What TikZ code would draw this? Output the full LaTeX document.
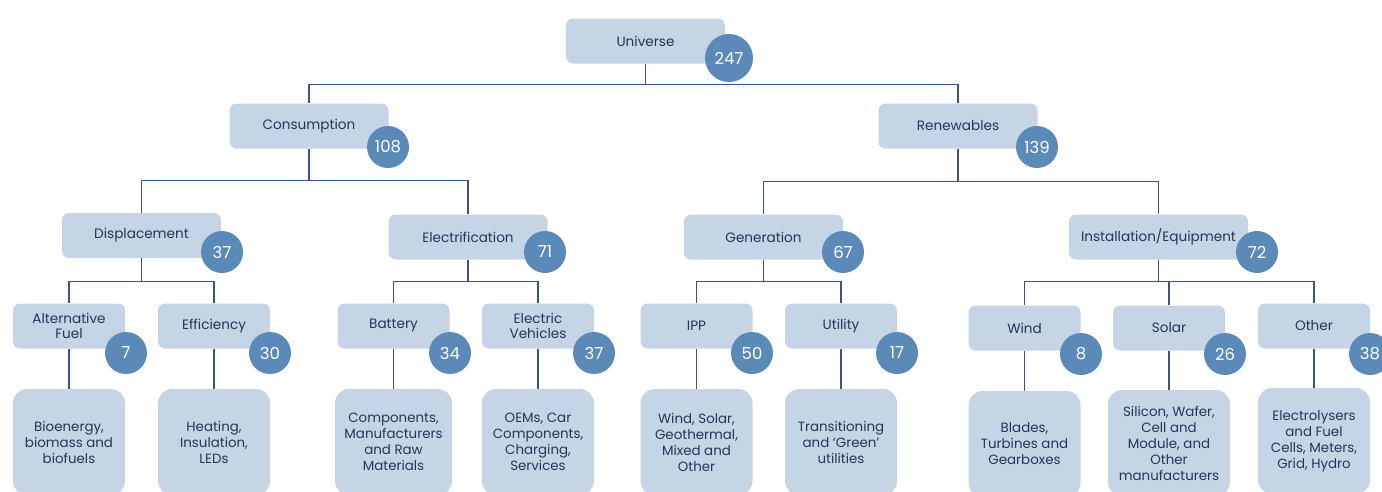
\documentclass[tikz,border=0pt]{standalone}
\usepackage{fontspec}
\setmainfont{Poppins}
\usetikzlibrary{positioning}
\definecolor{boxblue}{HTML}{C5D5E5}
\definecolor{dotblue}{HTML}{5B8AB9}
\definecolor{inkblue}{HTML}{26345A}
\definecolor{wireblue}{HTML}{3A5580}

\begin{document}
\begin{tikzpicture}[x=1pt,y=-1pt,
    cat/.style={rectangle,rounded corners=7pt,fill=boxblue,text=inkblue,
        minimum width=159pt,minimum height=45pt,inner sep=1pt,align=center,
        font=\fontsize{13.6}{15.5}\selectfont},
    sub/.style={cat,minimum width=112pt},
    detail/.style={rectangle,rounded corners=14pt,fill=boxblue,text=inkblue,
        minimum width=112pt,minimum height=106pt,inner sep=1pt,align=center,
        font=\fontsize{13.4}{16}\selectfont},
    count/.style={circle,fill=dotblue,text=white,minimum size=42pt,inner sep=0pt,
        font=\fontsize{16.5}{16.5}\selectfont},
    wire/.style={draw=wireblue,line width=1.3pt}]
    \useasboundingbox (0,0) rectangle (1382,491);
    \clip (0,0) rectangle (1382,491);

    % Top
    \node[cat] (univ) at (645.5,41) {Universe};

    % Second level
    \node[cat] (cons) at (309,126) {Consumption};
    \node[cat] (renew) at (958,126) {Renewables};

    % Third level
    \node[cat] (disp) at (141.5,235.5) {Displacement};
    \node[cat] (elec) at (468,237) {Electrification};
    \node[cat] (gen) at (763.5,237) {Generation};
    \node[cat,minimum width=179pt] (inst) at (1158.5,237) {Installation/Equipment};

    % Fourth level
    \node[sub] (altf) at (69,326) {Alternative\\Fuel};
    \node[sub] (effi) at (214,326) {Efficiency};
    \node[sub] (batt) at (393.5,326) {Battery};
    \node[sub] (ev) at (538,326) {Electric\\Vehicles};
    \node[sub] (ipp) at (696.5,326) {IPP};
    \node[sub] (util) at (841,326) {Utility};
    \node[sub] (wind) at (1024.5,328) {Wind};
    \node[sub] (solar) at (1169,328) {Solar};
    \node[sub] (other) at (1314,326) {Other};

    % Details
    \node[detail] (altf-d) at (69,442) {Bioenergy,\\biomass and\\biofuels};
    \node[detail] (effi-d) at (214,442) {Heating,\\Insulation,\\LEDs};
    \node[detail,minimum width=117pt] (batt-d) at (393.5,442) {Components,\\Manufacturers\\and Raw\\Materials};
    \node[detail] (ev-d) at (538,442) {OEMs, Car\\Components,\\Charging,\\Services};
    \node[detail] (ipp-d) at (696.5,442) {Wind, Solar,\\Geothermal,\\Mixed and\\Other};
    \node[detail] (util-d) at (841,442) {Transitioning\\and `Green'\\utilities};
    \node[detail] (wind-d) at (1024.5,444) {Blades,\\Turbines and\\Gearboxes};
    \node[detail,minimum width=122pt] (solar-d) at (1169,443) {Silicon, Wafer,\\Cell and\\Module, and\\Other\\manufacturers};
    \node[detail] (other-d) at (1314,441) {Electrolysers\\and Fuel\\Cells, Meters,\\Grid, Hydro};

    % Connectors
    \draw[wire] (univ.south) -- ++(0,21) -| (cons.north);
    \draw[wire] (univ.south) -- ++(0,21) -| (renew.north);
    \draw[wire] (cons.south) -- ++(0,32) -| (disp.north);
    \draw[wire] (cons.south) -- ++(0,32) -| (elec.north);
    \draw[wire] (renew.south) -- ++(0,33) -| (gen.north);
    \draw[wire] (renew.south) -- ++(0,33) -| (inst.north);
    \draw[wire] (disp.south) -- ++(0,23) -| (altf.north);
    \draw[wire] (disp.south) -- ++(0,23) -| (effi.north);
    \draw[wire] (elec.south) -- ++(0,22) -| (batt.north);
    \draw[wire] (elec.south) -- ++(0,22) -| (ev.north);
    \draw[wire] (gen.south) -- ++(0,22) -| (ipp.north);
    \draw[wire] (gen.south) -- ++(0,22) -| (util.north);
    \draw[wire] (inst.south) -- ++(0,22) -| (wind.north);
    \draw[wire] (inst.south) -- ++(0,22) -| (solar.north);
    \draw[wire] (inst.south) -- ++(0,22) -| (other.north);
    \foreach \a in {altf,effi,batt,ev,ipp,util,wind,solar,other}
        \draw[wire] (\a.south) -- (\a-d.north);

    % Counts
    \node[count,minimum size=48pt] (n-univ) at (729,58) {247};
    \node[count] (n-cons) at (388,147) {108};
    \node[count] (n-renew) at (1037,147) {139};
    \node[count] (n-disp) at (222,252) {37};
    \node[count] (n-elec) at (545,252) {71};
    \node[count] (n-gen) at (843,252) {67};
    \node[count] (n-inst) at (1257,252) {72};
    \node[count] (n-altf) at (126,353) {7};
    \node[count] (n-effi) at (270,353) {30};
    \node[count] (n-batt) at (450,353) {34};
    \node[count] (n-ev) at (594,353) {37};
    \node[count] (n-ipp) at (752,353) {50};
    \node[count] (n-util) at (897,353) {17};
    \node[count] (n-wind) at (1081,354) {8};
    \node[count] (n-solar) at (1225,354) {26};
    \node[count] (n-other) at (1370,354) {38};
\end{tikzpicture}
\end{document}
